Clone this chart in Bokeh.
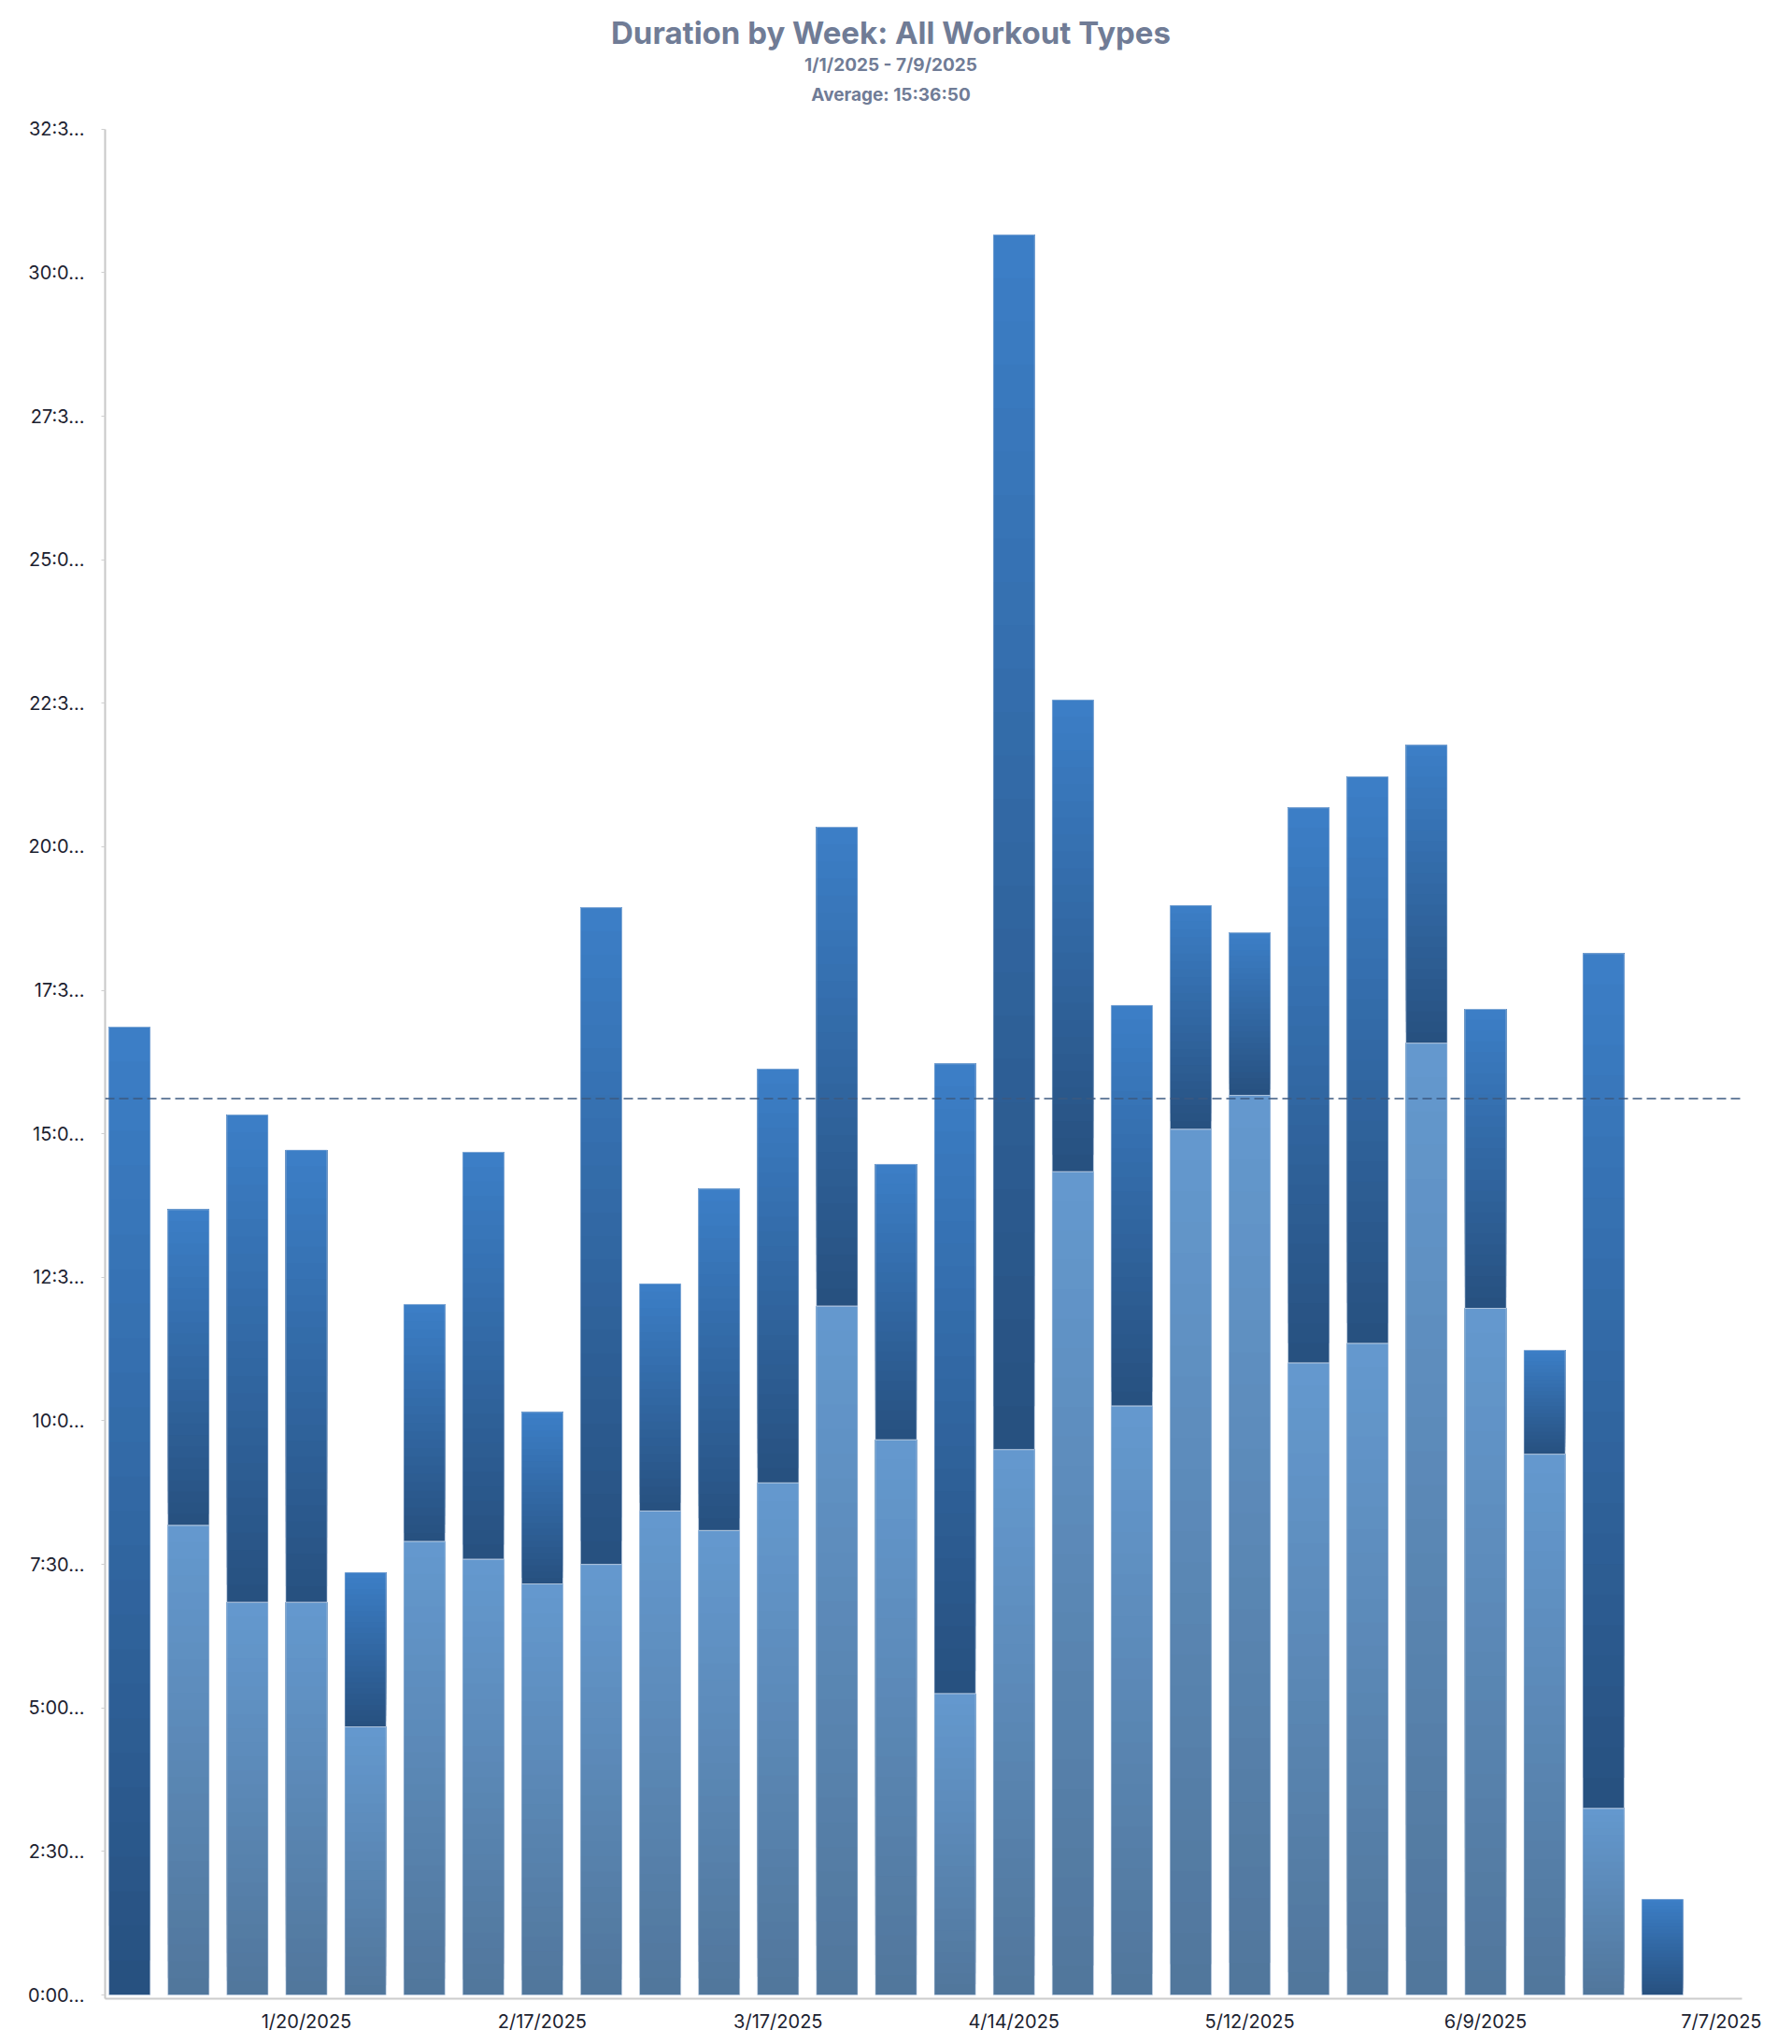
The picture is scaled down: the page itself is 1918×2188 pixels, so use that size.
import numpy as np
import pandas as pd
from bokeh.plotting import figure
from bokeh.models import Range1d, Span, Label, FixedTicker, ColumnDataSource
from bokeh.embed import file_html
from bokeh.resources import INLINE

# ---------------- data ----------------
weeks = ["12/30/2024", "1/6/2025", "1/13/2025", "1/20/2025", "1/27/2025", "2/3/2025",
         "2/10/2025", "2/17/2025", "2/24/2025", "3/3/2025", "3/10/2025", "3/17/2025",
         "3/24/2025", "3/31/2025", "4/7/2025", "4/14/2025", "4/21/2025", "4/28/2025",
         "5/5/2025", "5/12/2025", "5/19/2025", "5/26/2025", "6/2/2025", "6/9/2025",
         "6/16/2025", "6/23/2025", "6/30/2025"]
# hours per week, lower (light) series
type_a_hours = [0.00, 8.18, 6.84, 6.84, 4.67, 7.90, 7.59, 7.16, 7.50, 8.43, 8.09, 8.92,
                12.00, 9.67, 5.25, 9.50, 14.34, 10.26, 15.08, 15.67, 11.01, 11.35, 16.58,
                11.96, 9.42, 3.25, 0.00]
# hours per week, upper (dark) series
type_b_hours = [16.86, 5.50, 8.49, 7.88, 2.69, 4.13, 7.09, 2.99, 11.44, 3.96, 5.95, 7.21,
                8.34, 4.80, 10.97, 21.16, 8.22, 6.98, 3.90, 2.83, 9.67, 9.87, 5.19,
                5.21, 1.81, 14.89, 1.67]
average_hours = 15 + 36 / 60 + 50 / 3600

x_tick_dates = ["1/20/2025", "2/17/2025", "3/17/2025", "4/14/2025", "5/12/2025",
                "6/9/2025", "7/7/2025"]
y_tick_hours = [0, 2.5, 5, 7.5, 10, 12.5, 15, 17.5, 20, 22.5, 25, 27.5, 30, 32.5]
y_tick_labels = ["0:00...", "2:30...", "5:00...", "7:30...", "10:0...", "12:3...",
                 "15:0...", "17:3...", "20:0...", "22:3...", "25:0...", "27:3...",
                 "30:0...", "32:3..."]

title_text = "Duration by Week: All Workout Types"
range_text = "1/1/2025 - 7/9/2025"
average_text = "Average: 15:36:50"

# ---------------- helpers ----------------
t0 = pd.to_datetime(weeks[0], format="%m/%d/%Y")
def week_index(s):
    return (pd.to_datetime(s, format="%m/%d/%Y") - t0).days / 7.0

xs = [week_index(w) for w in weeks]
x_ticks = [week_index(d) for d in x_tick_dates]

def hex2rgb(h):
    h = h.lstrip("#")
    return np.array([int(h[i:i + 2], 16) for i in (0, 2, 4)], dtype=float)

def rgb2hex(c):
    return "#%02x%02x%02x" % tuple(int(round(v)) for v in c)

A_BOT, A_TOP = hex2rgb("#51769b"), hex2rgb("#6499cf")
B_BOT, B_TOP = hex2rgb("#27507f"), hex2rgb("#3c7fc7")
N = 28

gx, gb, gt, gc = [], [], [], []
def add_segment(x, bottom, top, cb, ct):
    if top - bottom <= 0:
        return
    for k in range(N):
        f = k / N
        gx.append(x)
        gb.append(bottom + (top - bottom) * f)
        gt.append(top)
        gc.append(rgb2hex(cb + (ct - cb) * ((k + 0.5) / N)))

for x, a, b in zip(xs, type_a_hours, type_b_hours):
    add_segment(x, 0.0, a, A_BOT, A_TOP)
for x, a, b in zip(xs, type_a_hours, type_b_hours):
    add_segment(x, a, a + b, B_BOT, B_TOP)

# ---------------- layout ----------------
BAR_W = 0.70
W, H = 1900, 2178
BL, BR, BB = 112, 36, 36
AXIS_TOP_PX = 138                      # where the value axis ends (32:30)
X0, X1 = -0.415, 27.35
Y0, Y_AXIS_TOP = -0.065, y_tick_hours[-1]
px_per_y = (H - BB - AXIS_TOP_PX) / (Y_AXIS_TOP - Y0)
Y1 = Y_AXIS_TOP + AXIS_TOP_PX / px_per_y   # frame reaches the top of the canvas
px_per_x = (W - BL - BR) / (X1 - X0)

def xpx(px):
    return X0 + (px - BL) / px_per_x
def ypx(py):
    return Y1 - py / px_per_y

p = figure(width=W, height=H, output_backend="svg", toolbar_location=None,
           x_range=Range1d(X0, X1), y_range=Range1d(Y0, Y1),
           min_border_left=BL, min_border_right=BR, min_border_bottom=BB,
           min_border_top=0)
p.outline_line_color = None
p.xgrid.visible = False
p.ygrid.visible = False
p.background_fill_color = "white"
p.border_fill_color = "white"

src = ColumnDataSource(dict(x=gx, bottom=gb, top=gt, color=gc))
p.vbar(x="x", bottom="bottom", top="top", width=BAR_W, fill_color="color",
       line_color=None, source=src)

# faint light outline on each segment
ob_x, ob_b, ob_t = [], [], []
for x, a, b in zip(xs, type_a_hours, type_b_hours):
    if a > 0:
        ob_x.append(x); ob_b.append(0.0); ob_t.append(a)
    if b > 0:
        ob_x.append(x); ob_b.append(a); ob_t.append(a + b)
p.vbar(x=ob_x, bottom=ob_b, top=ob_t, width=BAR_W, fill_color=None,
       line_color="#c9d7ea", line_width=1, line_alpha=0.55)

p.add_layout(Span(location=average_hours, dimension="width", line_color="#3d5a80",
                  line_width=1.6, line_dash="10 5"))

# axes
p.yaxis.ticker = FixedTicker(ticks=y_tick_hours)
p.yaxis.bounds = (Y0, Y_AXIS_TOP)
p.yaxis.major_label_overrides = {t: l for t, l in zip(y_tick_hours, y_tick_labels)}
p.yaxis.axis_line_color = "#c8c8c8"
p.yaxis.axis_line_width = 2
p.yaxis.major_tick_line_color = "#d0d0d0"
p.yaxis.major_tick_out = 4
p.yaxis.major_tick_in = 0
p.yaxis.minor_tick_line_color = None
p.yaxis.major_label_standoff = 18
p.yaxis.major_label_text_font = "Inter"
p.yaxis.major_label_text_font_size = "20px"
p.yaxis.major_label_text_color = "#1c2230"

p.xaxis.ticker = FixedTicker(ticks=x_ticks)
p.xaxis.major_label_overrides = {t: l for t, l in zip(x_ticks, x_tick_dates)}
p.xaxis.axis_line_color = "#cccccc"
p.xaxis.axis_line_width = 2
p.xaxis.major_tick_line_color = None
p.xaxis.minor_tick_line_color = None
p.xaxis.major_tick_out = 0
p.xaxis.major_tick_in = 0
p.xaxis.major_label_standoff = 12
p.xaxis.major_label_text_font = "Inter"
p.xaxis.major_label_text_font_size = "20px"
p.xaxis.major_label_text_color = "#1c2230"

# titles
TITLE_COLOR = "#707c96"
for txt, cy, size in [(title_text, 35, "33px"), (range_text, 69, "19px"),
                      (average_text, 101, "19px")]:
    p.add_layout(Label(x=xpx(953), y=ypx(cy), text=txt, text_align="center",
                       text_baseline="middle", text_font="Inter", text_font_size=size,
                       text_font_style="bold", text_color=TITLE_COLOR))

open("out.html", "w").write(file_html(p, INLINE))
